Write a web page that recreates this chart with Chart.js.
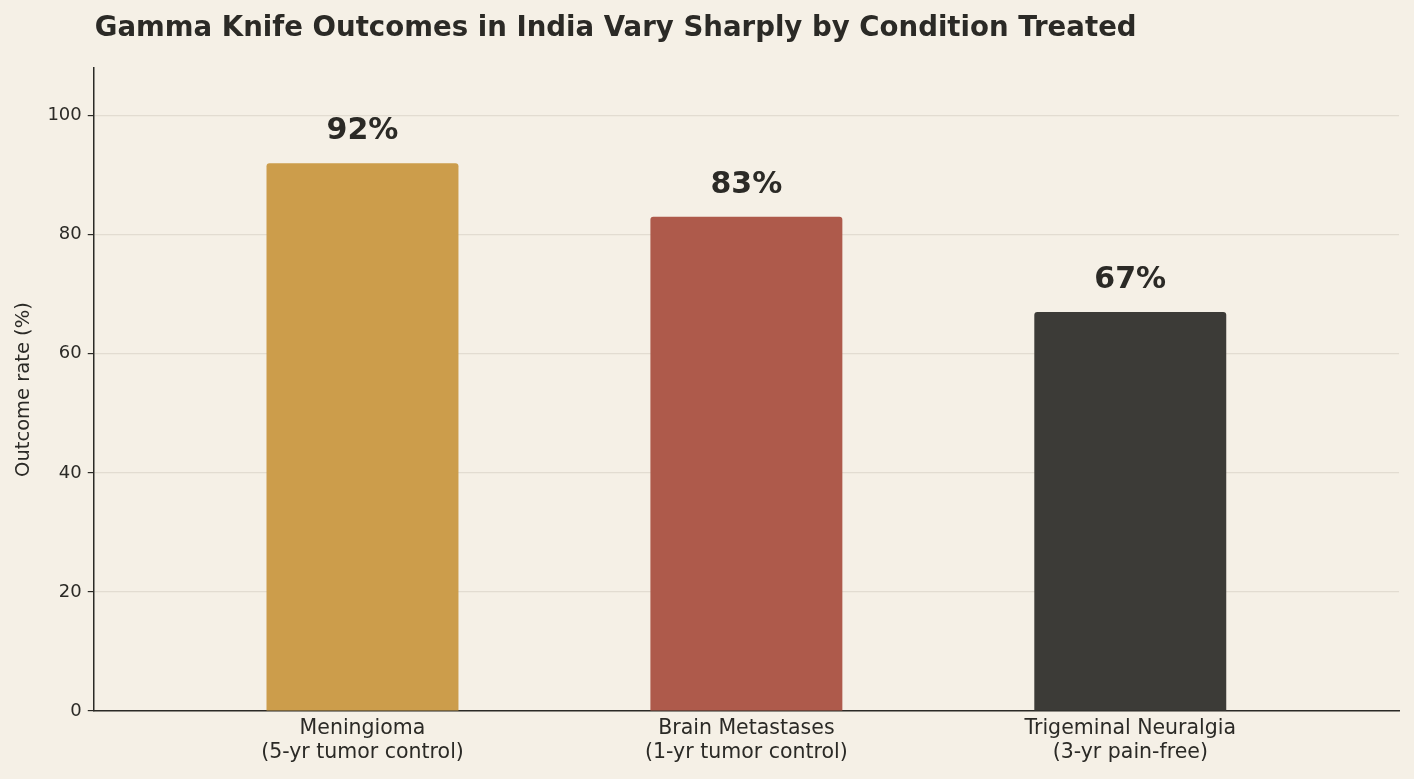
<!DOCTYPE html>
<html>
<head>
<meta charset="utf-8">
<script src="https://cdn.jsdelivr.net/npm/chart.js@4/dist/chart.umd.min.js"></script>
<style>
html,body{margin:0;padding:0;background:#f5f0e6;}
#wrap{width:1414px;height:779px;position:relative;}
</style>
</head>
<body>
<div id="wrap"><canvas id="c" width="1414" height="779"></canvas></div>
<script>
const categories = [["Meningioma","(5-yr tumor control)"],["Brain Metastases","(1-yr tumor control)"],["Trigeminal Neuralgia","(3-yr pain-free)"]];
const values = [92, 83, 67];
const barColors = ["#cc9d4b", "#ae5a4b", "#3c3b37"];
const yTicks = [0, 20, 40, 60, 80, 100];
const titleText = "Gamma Knife Outcomes in India Vary Sharply by Condition Treated";
const yTitle = "Outcome rate (%)";

const FONT = "'DejaVu Sans', sans-serif";
const TXT = "#2b2a26";

const labelPlugin = {
  id: 'labels',
  afterDatasetsDraw(chart) {
    const ctx = chart.ctx;
    const meta = chart.getDatasetMeta(0);
    const ys = chart.scales.y;
    ctx.save();
    ctx.font = "bold 30px " + FONT;
    ctx.fillStyle = TXT;
    ctx.textAlign = 'center';
    ctx.textBaseline = 'alphabetic';
    meta.data.forEach((bar, i) => {
      ctx.fillText(values[i] + '%', bar.x, ys.getPixelForValue(values[i] + 4));
    });
    ctx.restore();
  },
  beforeDraw(chart) {
    const ctx = chart.ctx;
    ctx.save();
    ctx.fillStyle = '#f5f0e6';
    ctx.fillRect(0, 0, chart.width, chart.height);
    ctx.font = "bold 27.6px " + FONT;
    ctx.fillStyle = TXT;
    ctx.textAlign = 'left';
    ctx.textBaseline = 'middle';
    ctx.fillText(titleText, chart.chartArea.left + 1, 29);
    ctx.restore();
  }
};

new Chart(document.getElementById('c'), {
  type: 'bar',
  data: {
    datasets: [{
      data: values.map((v, i) => ({x: i, y: v})),
      backgroundColor: barColors,
      borderRadius: {topLeft: 3, topRight: 3, bottomLeft: 0, bottomRight: 0},
      borderSkipped: 'bottom',
      barPercentage: 0.5,
      categoryPercentage: 1.0
    }]
  },
  options: {
    responsive: false,
    animation: false,
    devicePixelRatio: 1,
    layout: {padding: {top: 68, right: 15, left: 8, bottom: 8}},
    plugins: {legend: {display: false}, tooltip: {enabled: false}, title: {display: false}},
    scales: {
      x: {
        type: 'linear',
        offset: false,
        min: -0.7,
        max: 2.7,
        afterBuildTicks(scale) { scale.ticks = categories.map((c, i) => ({value: i})); },
        ticks: {
          callback: (v) => categories[v],
          color: TXT,
          font: {family: FONT, size: 20.5, lineHeight: 1.17},
          padding: 6,
          maxRotation: 0,
          autoSkip: false
        },
        grid: {display: false, drawTicks: false},
        border: {display: true, color: '#2b2a26', width: 1.5}
      },
      y: {
        min: 0,
        max: 108,
        afterBuildTicks(scale) { scale.ticks = yTicks.map(v => ({value: v})); },
        ticks: {color: TXT, font: {family: FONT, size: 18}, padding: 6},
        grid: {color: 'rgba(60,50,30,0.10)', tickColor: '#2b2a26', tickLength: 6, lineWidth: 1.2},
        border: {display: true, color: '#2b2a26', width: 1.5},
        title: {display: true, text: yTitle, color: TXT, font: {family: FONT, size: 19.5}, padding: {bottom: 6}}
      }
    }
  },
  plugins: [labelPlugin]
});
</script>
</body>
</html>
